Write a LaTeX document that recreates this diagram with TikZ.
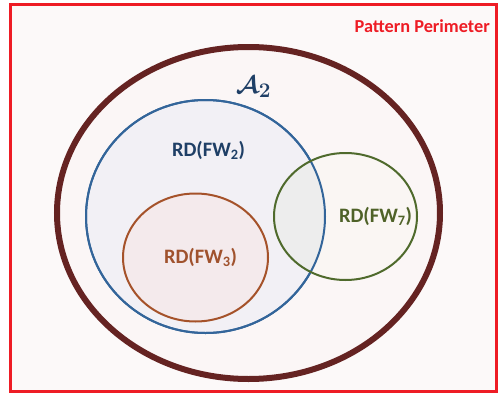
\documentclass[tikz,border=0pt]{standalone}
\usepackage{fontspec}
\setmainfont{Carlito}
\begin{document}
\begin{tikzpicture}[x=1pt,y=-1pt,
  lbl/.style={font=\fontsize{20.5}{20.5}\selectfont\bfseries, inner sep=0pt}]
\definecolor{perim}{HTML}{EE1C25}
\definecolor{bgin}{HTML}{FCF9F9}
\definecolor{bigst}{HTML}{652322}
\definecolor{bigfill}{HTML}{FBF6F6}
\definecolor{bluest}{HTML}{33659A}
\definecolor{bluefill}{HTML}{F2F0F5}
\definecolor{orst}{HTML}{A5522A}
\definecolor{orfill}{HTML}{F4EAEC}
\definecolor{grst}{HTML}{4F6A2C}
\definecolor{grfill}{HTML}{FAF6F3}
\definecolor{bluetxt}{HTML}{1F3F66}
\definecolor{ortxt}{HTML}{A0522D}
\definecolor{grtxt}{HTML}{4F6228}
\useasboundingbox (0,0) rectangle (499,394);
\fill[white] (0,0) rectangle (499,394);
\draw[perim, line width=3pt, fill=bgin] (10.5,4.5) rectangle (496,391.5);
\node[font=\fontsize{18.3}{18.3}\selectfont\bfseries, text=perim, anchor=base east, inner sep=0pt] (title) at (490,32) {Pattern Perimeter};
% big ellipse A2
\draw[bigst, line width=6pt, fill=bigfill] (248.5,213) ellipse [x radius=191.5, y radius=166];
% blue circle FW2
\draw[bluest, line width=2pt, fill=bluefill] (205.5,216.5) ellipse [x radius=119.5, y radius=116.5];
% orange FW3
\draw[orst, line width=2pt, fill=orfill] (195.5,257.5) ellipse [x radius=72.5, y radius=64];
% green FW7 fill (outside and inside blue)
\fill[grfill] (345.5,216.5) ellipse [x radius=71.5, y radius=63.5];
\begin{scope}
  \clip (205.5,216.5) ellipse [x radius=119.5, y radius=116.5];
  \fill[gray!14] (345.5,216.5) ellipse [x radius=71.5, y radius=63.5];
\end{scope}
\draw[bluest, line width=2pt] (205.5,216.5) ellipse [x radius=119.5, y radius=116.5];
\draw[grst, line width=2pt] (345.5,216.5) ellipse [x radius=71.5, y radius=63.5];
\node[text=bluetxt, inner sep=0pt, font=\fontsize{31}{31}\selectfont\boldmath] (a2) at (253.5,87) {$\mathcal{A}_2$};
\node[lbl, text=bluetxt] (fw2) at (208.5,150) {RD(FW\textsubscript{2})};
\node[lbl, text=ortxt] (fw3) at (200.5,257) {RD(FW\textsubscript{3})};
\node[lbl, text=grtxt] (fw7) at (375.5,216) {RD(FW\textsubscript{7})};
\end{tikzpicture}
\end{document}
